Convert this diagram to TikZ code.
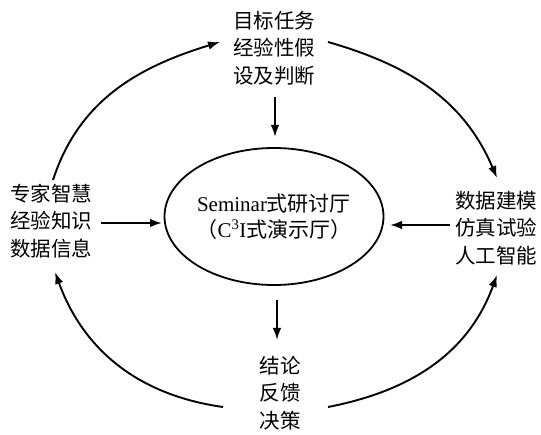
\documentclass[tikz,border=0pt]{standalone}
\usepackage{fontspec}
\setmainfont{Liberation Serif}
\newfontfamily\cjk{Noto Sans CJK SC}
\usetikzlibrary{shapes.geometric,arrows.meta}
\begin{document}
\begin{tikzpicture}[x=1pt,y=1pt,
  lbl/.style={font=\cjk\fontsize{20.5}{27.5}\selectfont, align=center, inner sep=0pt},
  conn/.style={line width=1.9pt, -{Latex[length=12pt,width=8.5pt]}},
  hall/.style={ellipse, draw, line width=1.8pt, minimum width=202pt, minimum height=137pt,
    inner sep=0pt, align=center, font=\fontsize{21}{26}\selectfont}]
\useasboundingbox (0,0) rectangle (541,434);

% nodes
\node[lbl] (top) at (274,386) {目标任务\\经验性假\\设及判断};
\node[lbl] (left) at (51,213) {专家智慧\\经验知识\\数据信息};
\node[lbl] (right) at (496,206) {数据建模\\仿真试验\\人工智能};
\node[lbl] (bottom) at (280,41) {结论\\反馈\\决策};
\node[hall] (hall) at (274,217.5) {Seminar{\cjk 式研讨厅}\\{\cjk （}C\textsuperscript{3}I{\cjk 式演示厅）}};

% connector end points
\coordinate (t1) at (275,337); \coordinate (t2) at (275,297);
\coordinate (b1) at (277,134); \coordinate (b2) at (277,94);
\coordinate (l1) at (101,211); \coordinate (l2) at (162,211);
\coordinate (r1) at (450,209); \coordinate (r2) at (390,209);
\coordinate (tl1) at (53,254);  \coordinate (tl2) at (220,392);
\coordinate (tr1) at (328,392); \coordinate (tr2) at (497,256);
\coordinate (bl1) at (223,27);  \coordinate (bl2) at (55,162);
\coordinate (br1) at (328,27);  \coordinate (br2) at (497,159);

% straight arrows
\draw[conn] (t1) -- (t2);
\draw[conn] (b1) -- (b2);
\draw[conn] (l1) -- (l2);
\draw[conn] (r1) -- (r2);

% curved arrows
\draw[conn] (tl1) to[out=72,in=197] (tl2);
\draw[conn] (tr1) to[out=-16,in=113] (tr2);
\draw[conn] (bl1) to[out=172,in=-70] (bl2);
\draw[conn] (br1) to[out=11,in=250] (br2);
\end{tikzpicture}
\end{document}
